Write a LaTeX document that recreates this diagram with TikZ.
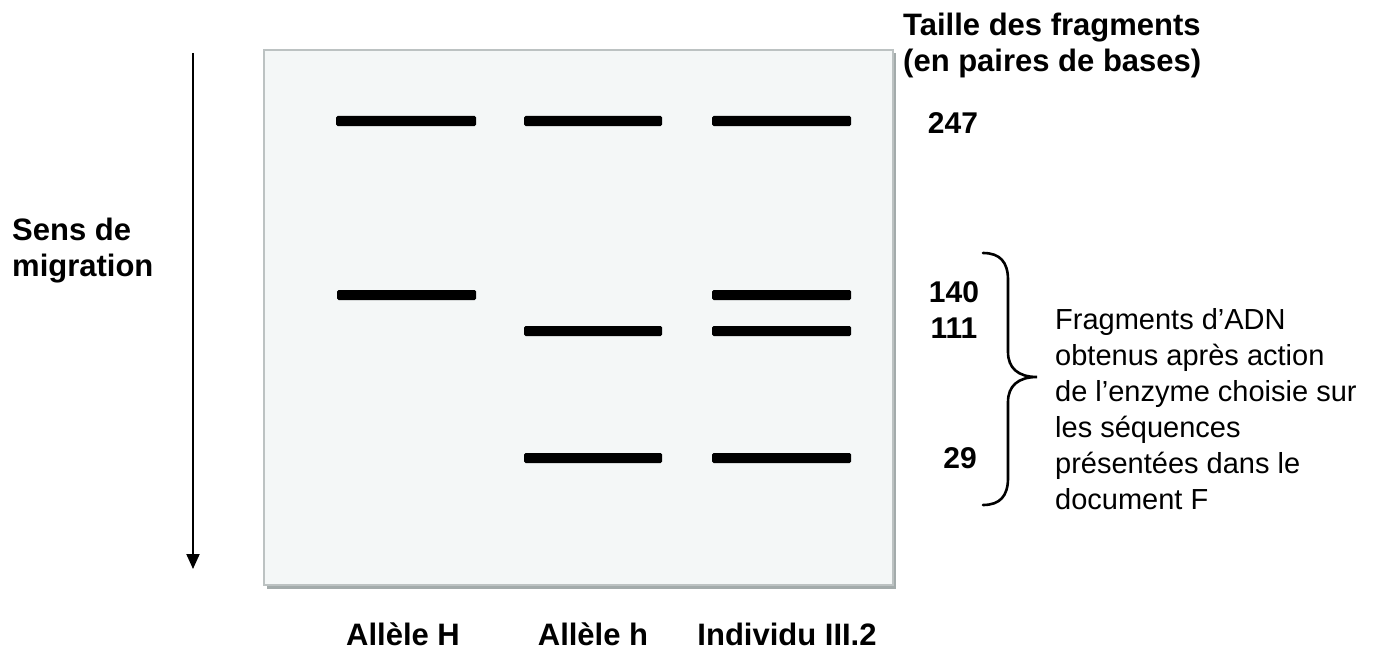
\documentclass[tikz,border=0pt]{standalone}
\usepackage{fontspec}
\setmainfont{Liberation Sans}
\usetikzlibrary{arrows.meta}
\definecolor{gelfill}{HTML}{F4F7F7}
\definecolor{gelborder}{HTML}{BCC2C2}
\definecolor{gelshadow}{HTML}{A3ABAB}
\begin{document}
\begin{tikzpicture}[x=1pt,y=-1pt,
  band/.style={fill=black,rounded corners=1.5pt},
  boldlbl/.style={font=\fontsize{31}{36}\selectfont\bfseries,inner sep=0pt},
  numlbl/.style={font=\fontsize{30}{34}\selectfont\bfseries,inner sep=0pt},
  notelbl/.style={font=\fontsize{29}{36}\selectfont,inner sep=0pt,align=left}]
\useasboundingbox (0,0) rectangle (1380,650);
% gel
\fill[gelshadow] (267,53) rectangle (896,589);
\draw[gelborder,fill=gelfill,line width=1.2pt] (264,50) rectangle (893,585);
% bands
\def\bandh{5}
\foreach \xa/\xb/\yy in {336/476/121, 524/662/121, 712/851/121,
                        337/476/295, 712/851/295,
                        524/662/331, 712/851/331,
                        524/662/458, 712/851/458}
  {\fill[band] (\xa,\yy-\bandh) rectangle (\xb,\yy+\bandh);}
% migration arrow
\coordinate (atop) at (193,53);
\coordinate (abot) at (193,569);
\draw[line width=2pt,-{Triangle[width=13pt,length=15pt]}] (atop) -- (abot);
\node[boldlbl,anchor=base west,align=left] (sens) at (12,276) {Sens de\\migration};
% title
\node[boldlbl,anchor=base west,align=left] (title) at (903,72) {Taille des fragments\\(en paires de bases)};
% sizes
\node[numlbl] (n247) at (953,123) {247};
\node[numlbl] (n140) at (954,292) {140};
\node[numlbl] (n111) at (954,328) {111};
\node[numlbl] (n29) at (960,458) {29};
% brace
\draw[line width=2.6pt,line cap=round]
  (983,253) .. controls (1000,253) and (1008,262) .. (1008,280)
  -- (1008,352) .. controls (1008,368) and (1018,377) .. (1037,377)
  .. controls (1018,377) and (1008,386) .. (1008,402)
  -- (1008,478) .. controls (1008,496) and (1000,505) .. (983,505);
\node[notelbl,anchor=base west] (note) at (1055,509) {Fragments d’ADN\\obtenus après action\\de l’enzyme choisie sur\\les séquences\\présentées dans le\\document F};
% lane labels
\node[boldlbl,anchor=base] (lH) at (403,645) {Allèle H};
\node[boldlbl,anchor=base] (lh) at (593,645) {Allèle h};
\node[boldlbl,anchor=base] (lI) at (787,645) {Individu III.2};
\end{tikzpicture}
\end{document}
